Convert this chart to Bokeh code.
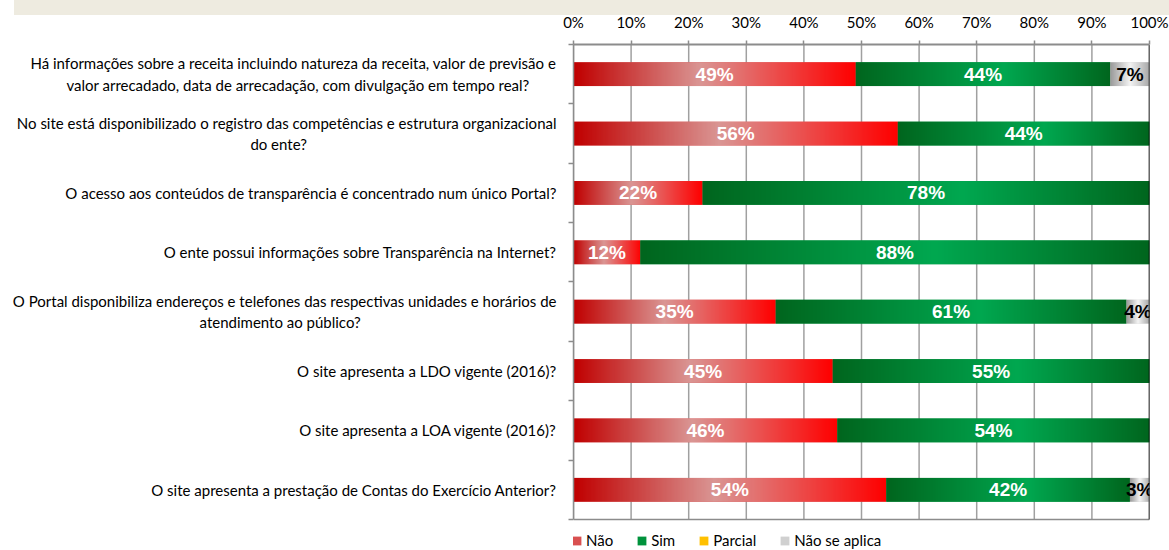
import numpy as np
from bokeh.plotting import figure
from bokeh.layouts import column
from bokeh.models import (ColumnDataSource, FixedTicker, NumeralTickFormatter,
                          Legend, LegendItem, Div)
from bokeh.core.properties import value
from bokeh.embed import file_html
from bokeh.resources import INLINE

# ---------------- data ----------------
questions = [
    ["Há informações sobre a receita incluindo natureza da receita, valor de previsão e",
     "valor arrecadado, data de arrecadação, com divulgação em tempo real?"],
    ["No site está disponibilizado o registro das competências e estrutura organizacional",
     "do ente?"],
    ["O acesso aos conteúdos de transparência é concentrado num único Portal?"],
    ["O ente possui informações sobre Transparência na Internet?"],
    ["O Portal disponibiliza endereços e telefones das respectivas unidades e horários de",
     "atendimento ao público?"],
    ["O site apresenta a LDO vigente (2016)?"],
    ["O site apresenta a LOA vigente (2016)?"],
    ["O site apresenta a prestação de Contas do Exercício Anterior?"],
]
nao = [49.0, 56.3, 22.4, 11.6, 35.1, 45.0, 45.8, 54.3]
sim = [44.2, 43.7, 77.6, 88.4, 60.9, 55.0, 54.2, 42.3]
parcial = [0, 0, 0, 0, 0, 0, 0, 0]
nao_se_aplica = [6.8, 0, 0, 0, 4.0, 0, 0, 3.4]
series_names = ["Não", "Sim", "Parcial", "Não se aplica"]
x_ticks = [0, 10, 20, 30, 40, 50, 60, 70, 80, 90, 100]

# ---------------- styles ----------------
solid_colors = ["#D95050", "#00923C", "#FFC000", "#D0D0D0"]
label_colors = ["white", "white", "white", "black"]
grad_stops = [
    [(0.0, (0xC0, 0x00, 0x00)), (0.45, (0xDA, 0x96, 0x94)), (1.0, (0xFF, 0x00, 0x00))],
    [(0.0, (0x00, 0x66, 0x1E)), (0.58, (0x00, 0xA8, 0x50)), (1.0, (0x00, 0x66, 0x1E))],
    [(0.0, (0xFF, 0xC0, 0x00)), (1.0, (0xFF, 0xC0, 0x00))],
    [(0.0, (0x9A, 0x9A, 0x9A)), (0.5, (0xF4, 0xF4, 0xF4)), (1.0, (0xA8, 0xA8, 0xA8))],
]
BAR_H = 0.4
LEGEND_ROOM = 0.523   # extra room (in row units) under the last row for the legend
GRID_COLOR = "#A0A0A0"
AXIS_COLOR = "#8C8C8C"
# trailing no-break spaces so the 2nd line of a wrapped label sits centred under the 1st
second_line_pad = [7, 65, 0, 0, 51, 0, 0, 0]


def gradient_image(stops, n=256):
    t = np.linspace(0, 1, n)
    pos = [s[0] for s in stops]
    chans = []
    for c in range(3):
        chans.append(np.interp(t, pos, [s[1][c] for s in stops]).astype(np.uint8))
    img = np.empty((1, n), dtype=np.uint32)
    view = img.view(dtype=np.uint8).reshape((1, n, 4))
    view[0, :, 0] = chans[0]
    view[0, :, 1] = chans[1]
    view[0, :, 2] = chans[2]
    view[0, :, 3] = 255
    return img


def label_text(lines, pad):
    if len(lines) == 1:
        return lines[0]
    return lines[0] + "\n" + lines[1] + "\u00a0" * pad


n_rows = len(questions)
centers = [i + 0.5 for i in range(n_rows)]
series = [nao, sim, parcial, nao_se_aplica]
keys = ["nao", "sim", "parcial", "na"]
xt = [t / 100 for t in x_ticks]

src = ColumnDataSource(dict(y=centers, **{k: [v / 100 for v in s] for k, s in zip(keys, series)}))

p = figure(width=1169, height=550, x_range=(0, 1), y_range=(n_rows + LEGEND_ROOM, 0),
           x_axis_location="above", output_backend="svg", toolbar_location=None,
           min_border_left=573, min_border_right=20, min_border_top=44, min_border_bottom=0)
p.outline_line_color = None
p.border_fill_color = None
p.background_fill_color = "white"
p.xgrid.grid_line_color = None
p.ygrid.grid_line_color = None

# vertical grid lines limited to the rows area
p.segment(x0=xt, y0=[0] * len(xt), x1=xt, y1=[n_rows] * len(xt),
          line_color=GRID_COLOR, line_width=1.5)
# bottom line of the plot area
p.segment(x0=[0], y0=[n_rows], x1=[1], y1=[n_rows], line_color=AXIS_COLOR, line_width=1.5)

renderers = p.hbar_stack(keys, y="y", height=BAR_H, color=solid_colors, line_color=None, source=src)

# gradient overlays, positioned from the same data
for si, s in enumerate(series):
    img = gradient_image(grad_stops[si])
    xs, ws, ys, imgs = [], [], [], []
    for r in range(n_rows):
        left = sum(series[k][r] for k in range(si)) / 100
        w = s[r] / 100
        if w <= 0:
            continue
        xs.append(left + w / 2)
        ws.append(w)
        ys.append(centers[r])
        imgs.append(img)
    if xs:
        p.image_rgba(image=imgs, x=xs, y=ys, dw=ws, dh=[BAR_H] * len(xs), anchor="center")

# right border line (black)
p.segment(x0=[1], y0=[0], x1=[1], y1=[n_rows], line_color="black", line_width=1.5)

# data labels
lx, ly, lt, lc = [], [], [], []
for si, s in enumerate(series):
    for r in range(n_rows):
        if s[r] <= 0:
            continue
        left = sum(series[k][r] for k in range(si)) / 100
        lx.append(left + s[r] / 200)
        ly.append(centers[r])
        lt.append(f"{round(s[r])}%")
        lc.append(label_colors[si])
p.text(x=lx, y=ly, text=lt, text_color=lc, text_align="center", text_baseline="middle",
       text_font=value("Liberation Sans"), text_font_style="bold", text_font_size="19px")

# x axis (top)
xa = p.xaxis[0]
xa.ticker = FixedTicker(ticks=xt)
xa.formatter = NumeralTickFormatter(format="0%")
xa.major_tick_in = 0
xa.major_tick_out = 4
xa.minor_tick_out = 0
xa.minor_tick_in = 0
xa.major_label_standoff = 10
xa.axis_line_color = AXIS_COLOR
xa.axis_line_width = 2
xa.major_tick_line_color = AXIS_COLOR
xa.major_tick_line_width = 1.5
xa.major_label_text_font = "Lato"
xa.major_label_text_font_size = "15px"
xa.major_label_text_color = "black"

# y axis (left)
ya = p.yaxis[0]
ya.bounds = (0, n_rows)
ya.ticker = FixedTicker(ticks=centers, minor_ticks=list(range(n_rows + 1)))
ya.major_label_overrides = {c: label_text(q, pd) for c, q, pd in zip(centers, questions, second_line_pad)}
ya.major_tick_out = 0
ya.major_tick_in = 0
ya.minor_tick_out = 5
ya.minor_tick_in = 0
ya.minor_tick_line_color = AXIS_COLOR
ya.minor_tick_line_width = 1.5
ya.axis_line_color = AXIS_COLOR
ya.axis_line_width = 1.5
ya.major_label_standoff = 12
ya.major_label_text_font = "Lato"
ya.major_label_text_font_size = "15px"
ya.major_label_text_color = "black"

# legend under the rows
items = [LegendItem(label=n, renderers=[r]) for n, r in zip(series_names, renderers)]
legend = Legend(items=items, orientation="horizontal", location=(-2, 1),
                margin=0, padding=1, spacing=23, label_standoff=4,
                glyph_width=11, glyph_height=11, border_line_color=None,
                background_fill_alpha=0, label_text_font="Lato", label_text_font_size="15px",
                label_text_color="black", label_height=14)
p.add_layout(legend, "center")

# header strip at the top of the page
band = Div(text="", width=1155, height=15, margin=(0, 0, -15, 14),
           styles={"background-color": "#EEEBE0"})

open("out.html", "w").write(file_html(column(band, p, spacing=0), INLINE))
